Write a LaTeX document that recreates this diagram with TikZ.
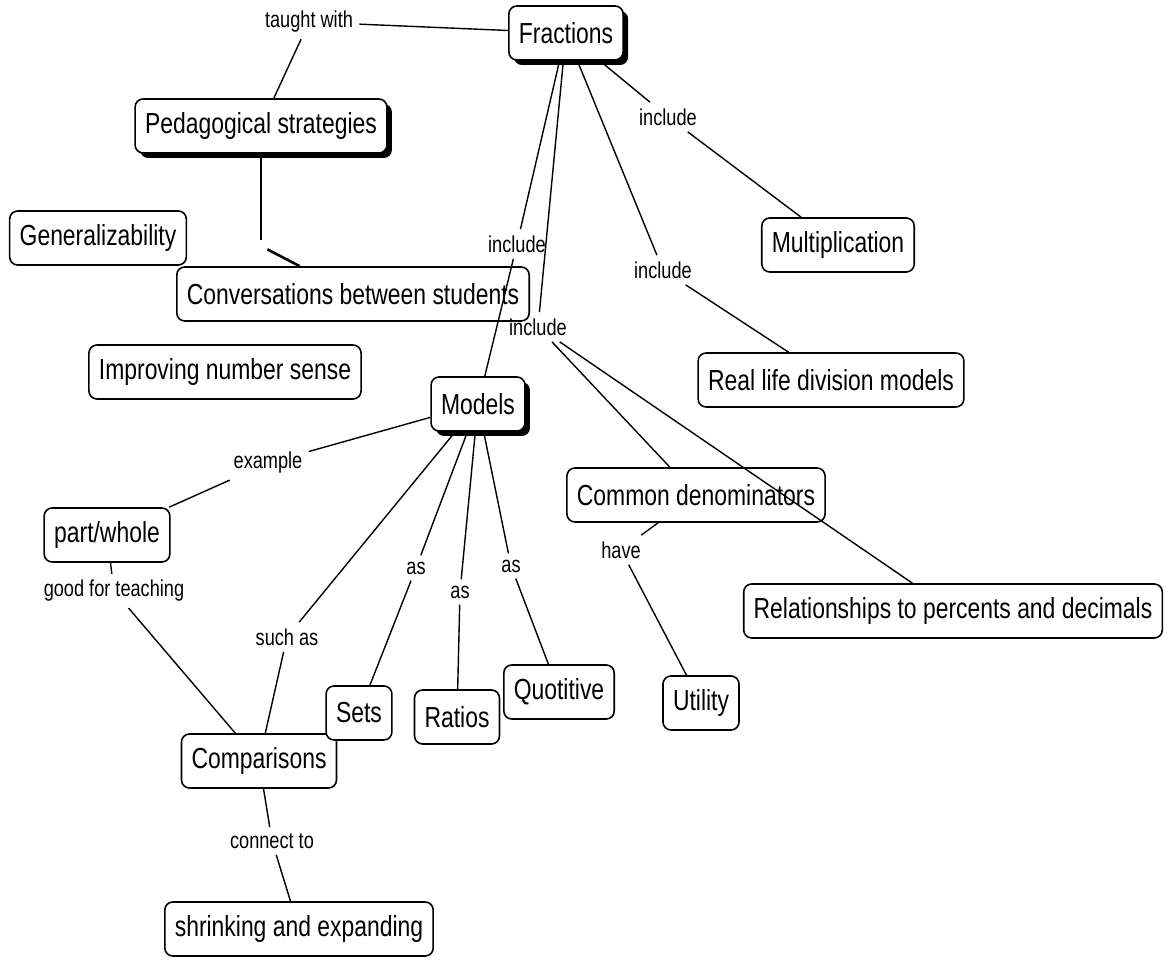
\documentclass[tikz,border=0pt]{standalone}
\usepackage{fontspec}
\setmainfont{Liberation Sans}[FakeStretch=0.79]
\usetikzlibrary{shadows}
\begin{document}
\begin{tikzpicture}[x=0.5pt,y=-0.5pt,
  concept/.style={draw=black, line width=0.8pt, rounded corners=4pt, fill=white,
    font=\fontsize{14.5}{17}\selectfont, inner xsep=5pt, minimum height=27pt},
  keyconcept/.style={concept,
    drop shadow={shadow xshift=2.5pt, shadow yshift=-2.5pt, fill=black, opacity=1}},
  link/.style={font=\fontsize{11.5}{13}\selectfont, inner sep=3pt},
  conn/.style={line width=0.7pt},
  gapmark/.style={inner sep=0pt, minimum size=6pt}]
\useasboundingbox (0,0) rectangle (1168,961);

% concepts
\node[keyconcept] (frac)   at (566,33)  {Fractions};
\node[keyconcept] (ped)    at (261,126) {Pedagogical strategies};
\node[concept]    (gen)    at (98,238)  {Generalizability};
\node[concept]    (conv)   at (353,294) {Conversations between students};
\node[concept]    (ins)    at (225,372) {Improving number sense};
\node[keyconcept] (models) at (478,404) {Models};
\node[concept]    (mult)   at (838,245) {Multiplication};
\node[concept]    (real)   at (831,380) {Real life division models};
\node[concept]    (comden) at (696,495) {Common denominators};
\node[concept]    (rel)    at (953,611) {Relationships to percents and decimals};
\node[concept]    (pw)     at (107,535) {part/whole};
\node[concept]    (comp)   at (259,761) {Comparisons};
\node[concept]    (sets)   at (359,713) {Sets};
\node[concept]    (ratios) at (457,717) {Ratios};
\node[concept]    (quot)   at (559,692) {Quotitive};
\node[concept]    (util)   at (701,703) {Utility};
\node[concept]    (shrink) at (299,929) {shrinking and expanding};

% linking phrases
\node[link] (lTaught)    at (309,22)  {taught with};
\node[link] (lIncMult)   at (668,117) {include};
\node[link] (lIncModels) at (517,244) {include};
\node[link] (lIncReal)   at (663,270) {include};
\node[link] (lIncCD)     at (538,327) {include};
\node[link] (lExample)   at (268,463) {example};
\node[link] (lAsSets)    at (416,568) {as};
\node[link] (lAsRatios)  at (460,592) {as};
\node[link] (lAsQuot)    at (511,566) {as};
\node[link] (lSuchAs)    at (287,637) {such as};
\node[link] (lGood)      at (114,591) {good for teaching};
\node[link] (lConnect)   at (272,841) {connect to};
\node[link] (lHave)      at (621,550) {have};
\node[gapmark] (lBlank)  at (261,246) {};

% connectors
\draw[conn] (frac) -- (lTaught);
\draw[conn] (lTaught) -- (ped);
\draw[conn] (ped) -- (lBlank);
\draw[line width=1.3pt] (lBlank) -- (conv);

\draw[conn] (frac) -- (lIncMult);
\draw[conn] (lIncMult) -- (mult);
\draw[conn] (frac) -- (lIncModels);
\draw[conn] (lIncModels) -- (models);
\draw[conn] (frac) -- (lIncReal);
\draw[conn] (lIncReal) -- (real);
\draw[conn] (frac) -- (lIncCD);
\draw[conn] (lIncCD) -- (comden);
\draw[conn] (lIncCD) -- (rel);

\draw[conn] (models) -- (lExample);
\draw[conn] (lExample) -- (pw);
\draw[conn] (models) -- (lSuchAs);
\draw[conn] (lSuchAs) -- (comp);
\draw[conn] (models) -- (lAsSets);
\draw[conn] (lAsSets) -- (sets);
\draw[conn] (models) -- (lAsRatios);
\draw[conn] (lAsRatios) -- (ratios);
\draw[conn] (models) -- (lAsQuot);
\draw[conn] (lAsQuot) -- (quot);

\draw[conn] (pw) -- (lGood);
\draw[conn] (lGood) -- (comp);
\draw[conn] (comp) -- (lConnect);
\draw[conn] (lConnect) -- (shrink);
\draw[conn] (comden) -- (lHave);
\draw[conn] (lHave) -- (util);
\end{tikzpicture}
\end{document}
